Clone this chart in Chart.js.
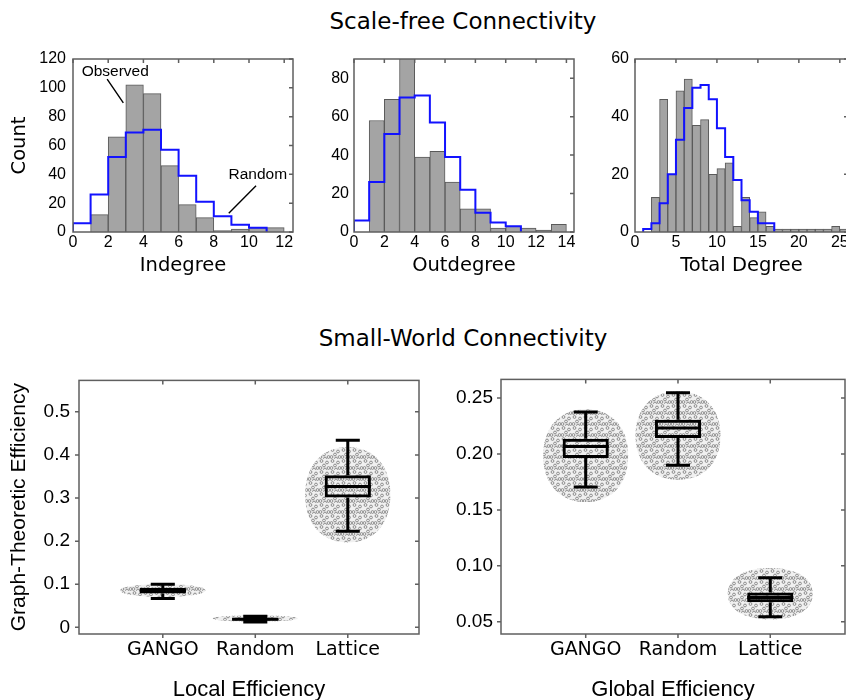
<!DOCTYPE html>
<html>
<head>
<meta charset="utf-8">
<script src="https://cdn.jsdelivr.net/npm/chart.js@4"></script>
<style>
  html, body { margin: 0; padding: 0; background: #fff; }
  #page { position: relative; width: 846px; height: 700px; overflow: hidden; }
  #page canvas { position: absolute; }
  .title { position: absolute; left: 0; width: 926px; text-align: center;
           font: 23px/1 'DejaVu Sans', sans-serif; color: #000; }
</style>
</head>
<body>
<div id="page">
  <div class="title" style="top:10px">Scale-free Connectivity</div>
  <div class="title" style="top:327px">Small-World Connectivity</div>
  <canvas id="inChart" style="left:0;top:40px" width="303" height="245"></canvas>
  <canvas id="outChart" style="left:304px;top:40px" width="280" height="245"></canvas>
  <canvas id="totChart" style="left:585px;top:40px" width="273" height="245"></canvas>
  <canvas id="localChart" style="left:0;top:360px" width="430" height="350"></canvas>
  <canvas id="globalChart" style="left:440px;top:360px" width="415" height="350"></canvas>
</div>
<script>
// ===== DATA =====
// histogram counts, one value per unit bin starting at 0 (0-1, 1-2, ...)
const indegreeObserved = [0, 12, 66, 102, 96, 46, 19, 10, 1, 2, 3, 3];
const indegreeRandom = [6, 26, 52, 69, 71, 57, 39, 21, 11, 5, 3];
const outdegreeObserved = [0, 58, 69, 93, 39, 42, 26, 12, 12, 2, 3, 2, 1, 4];
const outdegreeRandom = [6, 26, 51, 70, 71, 57, 39, 22, 10, 5, 3];
const totalObserved = [0, 0, 12, 46, 20, 49, 53, 37, 39, 20, 22, 24, 2, 12, 5, 7, 2, 1, 1, 1, 1, 1, 1, 1, 2, 1];
const totalRandom = [0, 1, 3, 10, 20, 32, 43, 50, 51, 46, 36, 26, 18, 11, 7, 3, 3];

// box plots
const boxCategories = ['GANGO', 'Random', 'Lattice'];
const localLow = [0.067, 0.0125, 0.223];
const localQ1 = [0.0785, 0.016, 0.3015];
const localMedian = [0.085, 0.019, 0.327];
const localQ3 = [0.0915, 0.022, 0.353];
const localHigh = [0.100, 0.0255, 0.434];
const localCloudLow = [0.071, 0.0135, 0.197];
const localCloudHigh = [0.100, 0.0275, 0.418];
const localTicks = [0, 0.1, 0.2, 0.3, 0.4, 0.5];
const localTickLabels = ['0', '0.1', '0.2', '0.3', '0.4', '0.5'];

const globalLow = [0.1705, 0.190, 0.0545];
const globalQ1 = [0.1964, 0.2143, 0.0673];
const globalMedian = [0.2068, 0.2232, 0.0717];
const globalQ3 = [0.2137, 0.2307, 0.0762];
const globalHigh = [0.2375, 0.2548, 0.0893];
const globalCloudLow = [0.157, 0.177, 0.052];
const globalCloudHigh = [0.240, 0.256, 0.098];
const globalTicks = [0.05, 0.10, 0.15, 0.20, 0.25];
const globalTickLabels = ['0.05', '0.10', '0.15', '0.20', '0.25'];

// ===== SHARED =====
Chart.defaults.font.family = "'Liberation Sans', Arial, sans-serif";
Chart.defaults.color = '#000';
Chart.defaults.animation = false;
Chart.defaults.plugins.legend.display = false;
Chart.defaults.plugins.tooltip.enabled = false;

const AXIS_GRAY = '#5f5f5f';
const BOX_HALF = 0.25;     // x units
const CAP_HALF = 0.13;
const CLOUD_HALF = 0.46;

const makeFrame = (outer) => ({
  id: 'frame',
  afterDraw(chart) {
    const { ctx, chartArea: a, scales: { x, y } } = chart;
    ctx.save();
    ctx.strokeStyle = AXIS_GRAY;
    ctx.lineWidth = 1.5;
    ctx.strokeRect(a.left, a.top, a.right - a.left, a.bottom - a.top);
    ctx.beginPath();
    x.ticks.forEach(t => {
      const px = x.getPixelForValue(t.value);
      ctx.moveTo(px, a.top); ctx.lineTo(px, a.top + 4);
      if (outer) { ctx.moveTo(px, a.bottom); ctx.lineTo(px, a.bottom + 4); }
    });
    y.ticks.forEach(t => {
      const py = y.getPixelForValue(t.value);
      ctx.moveTo(a.right, py); ctx.lineTo(a.right - 4, py);
      if (outer) { ctx.moveTo(a.left, py); ctx.lineTo(a.left - 4, py); }
    });
    ctx.stroke();
    ctx.restore();
  }
});

const fixedSize = (size) => s => {
  if (s.isHorizontal()) s.height = size; else s.width = size;
};

// ===== HISTOGRAMS =====
function histogram(id, observed, random, ax) {
  const bars = observed.map((v, i) => ({ x: i + 0.5, y: v }));
  const first = random.findIndex(v => v > 0);
  // step outline: each point carries the height of the bin that ends at it
  const steps = [{ x: first, y: 0 }];
  random.forEach((v, i) => { if (i >= first) steps.push({ x: i, y: v }); });
  steps.push({ x: random.length, y: 0 });

  const plugins = [makeFrame(false)];
  if (ax.extra) plugins.push(ax.extra);

  new Chart(document.getElementById(id), {
    type: 'bar',
    data: {
      datasets: [
        { type: 'line', data: steps, stepped: 'before', borderColor: '#1212ff', borderWidth: 2,
          pointRadius: 0, fill: false, order: 0 },
        { data: bars, backgroundColor: '#a4a4a4', borderColor: '#5a5a5a', borderWidth: 1,
          barPercentage: 1, categoryPercentage: 1, order: 1 }
      ]
    },
    options: {
      responsive: false,
      devicePixelRatio: 1,
      layout: { padding: { top: 19, right: 10, left: 0, bottom: 0 } },
      scales: {
        x: {
          type: 'linear', min: 0, max: ax.xMax, offset: false,
          grid: { display: false, drawTicks: false }, border: { display: false },
          ticks: { stepSize: ax.xStep, includeBounds: false, padding: 1, maxRotation: 0,
                   autoSkip: false, font: { size: 16 } },
          title: { display: true, text: ax.xTitle, padding: { top: 0, bottom: 7 },
                   font: { family: "'DejaVu Sans', sans-serif", size: 19.5 } },
          afterFit: fixedSize(53)
        },
        y: {
          min: 0, max: ax.yMax,
          grid: { display: false, drawTicks: false }, border: { display: false },
          ticks: { stepSize: 20, includeBounds: false, padding: ax.yPad, font: { size: 16 } },
          title: { display: !!ax.yTitle, text: ax.yTitle || '', padding: { top: 8, bottom: 0 },
                   font: { family: "'DejaVu Sans', sans-serif", size: 19.5 } },
          afterFit: fixedSize(ax.yWidth)
        }
      }
    },
    plugins
  });
}

const indegreeNotes = {
  id: 'notes',
  afterDatasetsDraw(chart) {
    const { ctx, scales: { x, y } } = chart;
    ctx.save();
    ctx.font = "15.5px 'Liberation Sans', Arial, sans-serif";
    ctx.fillStyle = '#000';
    ctx.textAlign = 'center';
    ctx.textBaseline = 'middle';
    ctx.fillText('Observed', x.getPixelForValue(2.4), y.getPixelForValue(111.5));
    ctx.fillText('Random', x.getPixelForValue(10.5), y.getPixelForValue(39.5));
    ctx.strokeStyle = '#000';
    ctx.lineWidth = 1.4;
    ctx.beginPath();
    ctx.moveTo(x.getPixelForValue(1.94), y.getPixelForValue(106));
    ctx.lineTo(x.getPixelForValue(2.86), y.getPixelForValue(89.6));
    ctx.moveTo(x.getPixelForValue(10.4), y.getPixelForValue(32));
    ctx.lineTo(x.getPixelForValue(8.85), y.getPixelForValue(13));
    ctx.stroke();
    ctx.restore();
  }
};

histogram('inChart', indegreeObserved, indegreeRandom,
  { xMax: 12.5, xStep: 2, yMax: 120, xTitle: 'Indegree', yTitle: 'Count', yWidth: 73, yPad: 7, extra: indegreeNotes });
histogram('outChart', outdegreeObserved, outdegreeRandom,
  { xMax: 14.5, xStep: 2, yMax: 90, xTitle: 'Outdegree', yWidth: 50, yPad: 5 });
histogram('totChart', totalObserved, totalRandom,
  { xMax: 26, xStep: 5, yMax: 60, xTitle: 'Total Degree', yWidth: 50, yPad: 6 });

// ===== BOX PLOTS =====
function dotPattern(ctx) {
  const c = document.createElement('canvas');
  c.width = 11; c.height = 11;
  const g = c.getContext('2d');
  g.strokeStyle = '#707070';
  g.lineWidth = 0.75;
  [[2.5, 2], [8, 3.5], [5, 6.5], [1.5, 9], [9.5, 9], [6, 10.5]].forEach(([px, py]) => {
    g.beginPath(); g.arc(px, py, 1.4, 0, Math.PI * 2); g.stroke();
  });
  return ctx.createPattern(c, 'repeat');
}

// rounded cloud outline (superellipse) around a category centre
function cloudPath(ctx, cx, cy, rx, ry) {
  const n = 2.2;
  ctx.beginPath();
  for (let k = 0; k <= 72; k++) {
    const t = (k / 72) * Math.PI * 2;
    const c = Math.cos(t), s = Math.sin(t);
    const px = cx + rx * Math.sign(c) * Math.pow(Math.abs(c), 2 / n);
    const py = cy + ry * Math.sign(s) * Math.pow(Math.abs(s), 2 / n);
    if (k === 0) ctx.moveTo(px, py); else ctx.lineTo(px, py);
  }
  ctx.closePath();
}

const makeBoxParts = (s) => ({
  id: 'boxParts',
  beforeDatasetsDraw(chart) {
    const { ctx, chartArea: a, scales: { x, y } } = chart;
    ctx.save();
    ctx.beginPath();
    ctx.rect(a.left, a.top, a.right - a.left, a.bottom - a.top);
    ctx.clip();
    const pattern = dotPattern(ctx);
    s.cloudLow.forEach((lo, i) => {
      const cx = x.getPixelForValue(i + 1);
      const rx = x.getPixelForValue(i + 1 + CLOUD_HALF) - cx;
      const top = y.getPixelForValue(s.cloudHigh[i]);
      const bot = y.getPixelForValue(lo);
      cloudPath(ctx, cx, (top + bot) / 2, rx, Math.max((bot - top) / 2, 3));
      ctx.fillStyle = 'rgba(0,0,0,0.06)';
      ctx.fill();
      ctx.fillStyle = pattern;
      ctx.fill();
    });
    ctx.restore();
  },
  afterDatasetsDraw(chart) {
    const { ctx, scales: { x, y } } = chart;
    ctx.save();
    ctx.strokeStyle = '#000';
    ctx.lineWidth = 3;
    ctx.beginPath();
    s.low.forEach((lo, i) => {
      const cx = x.getPixelForValue(i + 1);
      const cap = x.getPixelForValue(i + 1 + CAP_HALF) - cx;
      const half = x.getPixelForValue(i + 1 + BOX_HALF) - cx;
      const yl = y.getPixelForValue(lo), yh = y.getPixelForValue(s.high[i]);
      const y1 = y.getPixelForValue(s.q1[i]), y3 = y.getPixelForValue(s.q3[i]);
      const ym = y.getPixelForValue(s.med[i]);
      ctx.moveTo(cx, yl); ctx.lineTo(cx, y1);
      ctx.moveTo(cx, y3); ctx.lineTo(cx, yh);
      ctx.moveTo(cx - cap, yl); ctx.lineTo(cx + cap, yl);
      ctx.moveTo(cx - cap, yh); ctx.lineTo(cx + cap, yh);
      ctx.moveTo(cx - half, ym); ctx.lineTo(cx + half, ym);
    });
    ctx.stroke();
    ctx.restore();
  }
});

function boxChart(id, s, ax) {
  new Chart(document.getElementById(id), {
    type: 'bar',
    data: {
      datasets: [{
        data: boxCategories.map((c, i) => ({ x: i + 1, y: [s.q1[i], s.q3[i]] })),
        backgroundColor: 'rgba(0,0,0,0)', borderColor: '#000', borderWidth: 3,
        borderSkipped: false, barPercentage: BOX_HALF * 2, categoryPercentage: 1
      }]
    },
    options: {
      responsive: false,
      devicePixelRatio: 1,
      layout: { padding: { top: 19, right: ax.padR, left: 0, bottom: 0 } },
      scales: {
        x: {
          type: 'linear', min: ax.xMin, max: ax.xMax, offset: false,
          grid: { display: false, drawTicks: false }, border: { display: false },
          afterBuildTicks: sc => { sc.ticks = boxCategories.map((c, i) => ({ value: i + 1 })); },
          ticks: { padding: 5, maxRotation: 0, autoSkip: false,
                   callback: v => boxCategories[Math.round(v) - 1],
                   font: { family: "'DejaVu Sans', sans-serif", size: 19 } },
          title: { display: true, text: ax.xTitle, padding: { top: 0, bottom: 7 },
                   font: { size: 22 } },
          afterFit: fixedSize(76)
        },
        y: {
          min: ax.yMin, max: ax.yMax,
          grid: { display: false, drawTicks: false }, border: { display: false },
          afterBuildTicks: sc => { sc.ticks = ax.ticks.map(v => ({ value: v })); },
          ticks: { padding: ax.yPad, autoSkip: false,
                   callback: (v, i) => ax.tickLabels[i], font: { size: 19 } },
          title: { display: !!ax.yTitle, text: ax.yTitle || '', padding: { top: 7, bottom: 0 },
                   font: { size: 21 } },
          afterFit: fixedSize(ax.yWidth)
        }
      }
    },
    plugins: [makeBoxParts(s), makeFrame(true)]
  });
}

boxChart('localChart',
  { low: localLow, q1: localQ1, med: localMedian, q3: localQ3, high: localHigh,
    cloudLow: localCloudLow, cloudHigh: localCloudHigh },
  { xMin: 0.094, xMax: 3.77, yMin: -0.0155, yMax: 0.573, ticks: localTicks, tickLabels: localTickLabels,
    xTitle: 'Local Efficiency', yTitle: 'Graph-Theoretic Efficiency', yWidth: 79, yPad: 9, padR: 11 });

boxChart('globalChart',
  { low: globalLow, q1: globalQ1, med: globalMedian, q3: globalQ3, high: globalHigh,
    cloudLow: globalCloudLow, cloudHigh: globalCloudHigh },
  { xMin: 0.082, xMax: 3.81, yMin: 0.039, yMax: 0.2667, ticks: globalTicks, tickLabels: globalTickLabels,
    xTitle: 'Global Efficiency', yWidth: 61, yPad: 8, padR: 10 });
</script>
</body>
</html>
